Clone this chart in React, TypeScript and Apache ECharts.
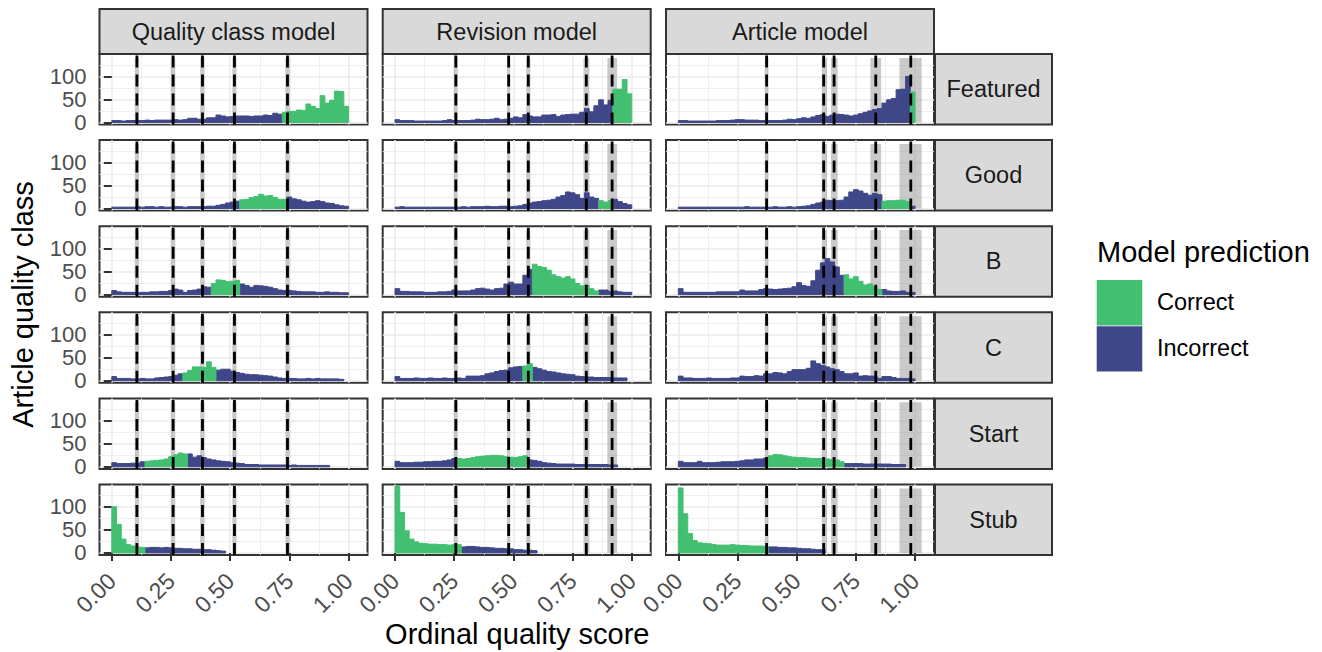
import { useEffect, useRef } from "react";
import * as echarts from "echarts";

const FONT = "'Liberation Sans', Arial, Helvetica, sans-serif";

const MODELS = ["Quality class model", "Revision model", "Article model"];
const CLASSES = ["Featured", "Good", "B", "C", "Start", "Stub"];
const LEGEND_TITLE = "Model prediction";
const X_TITLE = "Ordinal quality score";
const Y_TITLE = "Article quality class";
const COLOR_CORRECT = "#43BF71";
const COLOR_INCORRECT = "#3F4788";

const BIN_WIDTH = 0.02;
const N_BINS = 50;
const X_TICKS = [0, 0.25, 0.5, 0.75, 1];
const X_MINOR_TICKS = [0.125, 0.375, 0.625, 0.875];
const Y_TICKS = [0, 50, 100];
const Y_MINOR_TICKS = [25, 75, 125];
const X_MIN = -0.052;
const X_MAX = 1.08;
const Y_MIN = -4.5;
const Y_MAX = 148.5;
const BAND_TOP = 140;

// thresholds (dashed lines) and their grey uncertainty bands, per model
const QC_CUTS = [0.106, 0.259, 0.383, 0.518, 0.742];
const RV_CUTS = [0.257, 0.48, 0.563, 0.808, 0.917];
const AR_CUTS = [0.373, 0.614, 0.658, 0.834, 0.982];
const QC_BANDS = [[0.097, 0.115], [0.25, 0.268], [0.374, 0.392], [0.509, 0.527], [0.733, 0.751]];
const RV_BANDS = [[0.249, 0.265], [0.473, 0.487], [0.554, 0.572], [0.796, 0.821], [0.897, 0.938]];
const AR_BANDS = [[0.365, 0.381], [0.606, 0.628], [0.645, 0.673], [0.811, 0.857], [0.934, 1.028]];

function bins(start: number, counts: number[]): number[] {
  const out = new Array(N_BINS).fill(0);
  counts.forEach((v, k) => {
    out[start + k] = v;
  });
  return out;
}

// ---- Quality class model ----
const QC_FEATURED_INC = bins(0, [4, 4, 3, 4, 4, 4, 4, 5, 4, 5, 5, 5, 5, 6, 5, 6, 9, 9, 7, 7, 10, 10, 16, 14, 12, 13, 14, 14, 14, 13, 14, 14, 16, 15, 20, 18]);
const QC_FEATURED_COR = bins(36, [22, 24, 24, 27, 26, 40, 35, 30, 58, 42, 48, 68, 67, 35]);
const QC_GOOD_INC = bins(0, [3, 3, 3, 3, 3, 4, 3, 4, 4, 3, 4, 3, 3, 4, 4, 3, 4, 4, 4, 4, 5, 5, 7, 9, 12, 14, 16, 0, 0, 0, 0, 0, 0, 0, 0, 0, 0, 25, 21, 19, 16, 14, 15, 17, 15, 12, 11, 8, 6, 5]);
const QC_GOOD_COR = bins(27, [19, 20, 24, 26, 31, 27, 28, 24, 20, 20]);
const QC_B_INC = bins(0, [9, 6, 5, 5, 5, 4, 5, 5, 6, 6, 7, 7, 9, 12, 10, 5, 9, 10, 12, 17, 16, 0, 0, 0, 0, 0, 0, 23, 20, 16, 20, 19, 18, 16, 13, 10, 9, 9, 8, 7, 6, 6, 6, 5, 5, 6, 5, 5, 4, 4]);
const QC_B_COR = bins(21, [24, 32, 31, 28, 29, 31]);
const QC_C_INC = bins(0, [9, 5, 5, 5, 4, 4, 5, 4, 4, 6, 7, 8, 9, 12, 15, 0, 0, 0, 0, 0, 0, 0, 23, 25, 25, 21, 18, 16, 14, 13, 13, 12, 11, 10, 8, 6, 5, 5, 5, 4, 4, 5, 4, 5, 4, 4, 4, 4, 3]);
const QC_C_COR = bins(15, [17, 22, 30, 30, 29, 41, 29]);
const QC_START_INC = bins(0, [9, 7, 7, 7, 8, 8, 11, 0, 0, 0, 0, 0, 0, 0, 0, 0, 28, 21, 24, 20, 17, 15, 13, 12, 11, 9, 8, 7, 5, 5, 5, 4, 4, 4, 4, 4, 4, 3, 4, 3, 3, 3, 3, 3, 3, 3]);
const QC_START_COR = bins(7, [12, 13, 14, 15, 17, 22, 26, 30, 28]);
const QC_STUB_INC = bins(7, [11, 12, 12, 11, 12, 11, 10, 10, 9, 9, 8, 8, 7, 7, 6, 5, 4]);
const QC_STUB_COR = bins(0, [100, 62, 30, 18, 15, 13, 12]);

// ---- Revision model ----
const RV_FEATURED_INC = bins(0, [6, 4, 4, 4, 3, 3, 3, 3, 3, 3, 4, 6, 4, 4, 4, 4, 5, 7, 6, 6, 7, 9, 6, 7, 9, 12, 10, 17, 14, 12, 12, 16, 16, 17, 13, 16, 17, 18, 18, 22, 30, 23, 36, 49, 38, 48]);
const RV_FEATURED_COR = bins(46, [72, 72, 93, 62]);
const RV_GOOD_INC = bins(0, [3, 4, 3, 3, 3, 3, 3, 3, 3, 3, 3, 3, 3, 3, 4, 3, 4, 4, 4, 5, 4, 4, 5, 5, 4, 5, 6, 9, 12, 14, 15, 17, 18, 20, 25, 28, 36, 34, 30, 22, 34, 25, 22, 0, 0, 0, 20, 15, 11, 8]);
const RV_GOOD_COR = bins(43, [17, 14, 17]);
const RV_B_INC = bins(0, [13, 7, 7, 6, 6, 6, 5, 5, 5, 6, 6, 7, 10, 8, 8, 8, 10, 13, 14, 12, 10, 13, 14, 23, 27, 23, 23, 42, 55, 0, 0, 0, 0, 0, 0, 0, 0, 0, 0, 0, 0, 0, 0, 10, 10, 7, 8, 6, 5, 5]);
const RV_B_COR = bins(29, [66, 61, 59, 53, 43, 39, 36, 39, 34, 24, 19, 20, 13, 8]);
const RV_C_INC = bins(0, [9, 5, 5, 5, 6, 5, 5, 6, 5, 5, 6, 5, 5, 6, 5, 10, 10, 10, 11, 15, 17, 20, 22, 23, 28, 30, 31, 0, 0, 29, 26, 23, 20, 19, 17, 15, 14, 13, 10, 9, 8, 8, 7, 7, 7, 7, 6, 6, 6]);
const RV_C_COR = bins(27, [32, 37]);
const RV_START_INC = bins(0, [12, 9, 9, 9, 10, 10, 11, 11, 12, 12, 13, 15, 18, 0, 0, 0, 0, 0, 0, 0, 0, 0, 0, 0, 0, 0, 0, 0, 15, 14, 12, 9, 8, 7, 6, 6, 6, 6, 5, 5, 5, 5, 5, 5, 5, 4, 4]);
const RV_START_COR = bins(13, [18, 17, 18, 20, 22, 23, 24, 25, 25, 24, 22, 21, 20, 22, 24]);
const RV_STUB_INC = bins(14, [13, 14, 14, 13, 12, 12, 11, 10, 10, 9, 9, 7, 7, 6, 6, 5]);
const RV_STUB_COR = bins(0, [145, 88, 48, 30, 24, 21, 20, 19, 19, 18, 18, 17, 18, 18]);

// ---- Article model ----
const AR_FEATURED_INC = bins(0, [4, 4, 3, 3, 3, 3, 3, 3, 4, 4, 4, 5, 6, 6, 5, 5, 5, 4, 4, 4, 4, 4, 5, 7, 6, 8, 10, 9, 12, 15, 17, 13, 16, 18, 17, 16, 14, 16, 19, 22, 25, 28, 30, 42, 49, 52, 71, 72, 100]);
const AR_FEATURED_COR = bins(49, [66]);
const AR_GOOD_INC = bins(0, [3, 3, 3, 3, 3, 3, 3, 3, 3, 3, 3, 3, 3, 3, 4, 3, 3, 3, 3, 3, 4, 3, 3, 4, 3, 4, 5, 6, 9, 12, 14, 18, 17, 17, 18, 25, 36, 41, 38, 33, 29, 33, 30, 0, 0, 0, 0, 0, 0, 5]);
const AR_GOOD_COR = bins(43, [16, 17, 17, 18, 18, 15]);
const AR_B_INC = bins(0, [13, 5, 5, 5, 5, 5, 5, 5, 6, 6, 6, 6, 6, 10, 8, 8, 8, 11, 13, 12, 11, 12, 13, 14, 17, 26, 20, 18, 30, 53, 69, 78, 71, 60, 42, 0, 0, 0, 0, 0, 0, 0, 0, 11, 8, 7, 7, 8, 5, 5]);
const AR_B_COR = bins(35, [43, 34, 39, 29, 21, 23, 18, 11]);
const AR_C_INC = bins(0, [10, 6, 6, 5, 5, 5, 6, 5, 5, 5, 5, 6, 6, 10, 9, 9, 11, 10, 15, 15, 18, 17, 15, 20, 24, 24, 24, 27, 43, 37, 33, 30, 26, 24, 20, 15, 15, 17, 10, 11, 10, 10, 5, 9, 9, 7, 5, 5, 5, 4]);
const AR_C_COR = bins(0, []);
const AR_START_INC = bins(0, [12, 9, 9, 9, 12, 9, 9, 9, 10, 11, 11, 11, 12, 13, 15, 15, 17, 17, 19, 0, 0, 0, 0, 0, 0, 0, 0, 0, 0, 0, 0, 0, 0, 0, 0, 7, 7, 7, 7, 6, 6, 6, 6, 6, 6, 5, 5, 5]);
const AR_START_COR = bins(19, [24, 27, 26, 24, 22, 21, 20, 20, 19, 18, 18, 18, 17, 16, 15, 11]);
const AR_STUB_INC = bins(19, [13, 13, 12, 12, 11, 11, 10, 9, 9, 8, 7, 7]);
const AR_STUB_COR = bins(0, [141, 85, 42, 27, 22, 21, 20, 18, 17, 17, 17, 18, 17, 16, 16, 15, 15, 15, 14]);

const CUTS = [QC_CUTS, RV_CUTS, AR_CUTS];
const BANDS = [QC_BANDS, RV_BANDS, AR_BANDS];
// [model][class] -> [incorrect, correct]
const COUNTS = [
  [
    [QC_FEATURED_INC, QC_FEATURED_COR],
    [QC_GOOD_INC, QC_GOOD_COR],
    [QC_B_INC, QC_B_COR],
    [QC_C_INC, QC_C_COR],
    [QC_START_INC, QC_START_COR],
    [QC_STUB_INC, QC_STUB_COR],
  ],
  [
    [RV_FEATURED_INC, RV_FEATURED_COR],
    [RV_GOOD_INC, RV_GOOD_COR],
    [RV_B_INC, RV_B_COR],
    [RV_C_INC, RV_C_COR],
    [RV_START_INC, RV_START_COR],
    [RV_STUB_INC, RV_STUB_COR],
  ],
  [
    [AR_FEATURED_INC, AR_FEATURED_COR],
    [AR_GOOD_INC, AR_GOOD_COR],
    [AR_B_INC, AR_B_COR],
    [AR_C_INC, AR_C_COR],
    [AR_START_INC, AR_START_COR],
    [AR_STUB_INC, AR_STUB_COR],
  ],
];

// ---- layout ----
const COL_LEFT = [99.5, 382.7, 666];
const PANEL_W = 268;
const ROW_TOP0 = 54;
const ROW_STEP = 86.1;
const PANEL_H = 70.5;
const STRIP_TOP = 9;
const STRIP_RIGHT_X = 935;
const STRIP_RIGHT_W = 117;

function rectItem(color: string) {
  return (params: any, api: any) => {
    const a = api.coord([api.value(0), api.value(3)]);
    const b = api.coord([api.value(1), api.value(2)]);
    return {
      type: "rect",
      shape: { x: a[0], y: a[1], width: b[0] - a[0], height: b[1] - a[1] },
      style: { fill: color, stroke: color, lineWidth: 1 },
    };
  };
}

function buildOption() {
  const grid: any[] = [];
  const xAxis: any[] = [];
  const yAxis: any[] = [];
  const series: any[] = [];
  const graphic: any[] = [];
  const gridLine = { color: "#EBEBEB", width: 1.6 };
  const minorLine = { color: "#EBEBEB", width: 0.8 };
  const tickLine = { color: "#333333", width: 2 };

  for (let r = 0; r < CLASSES.length; r++) {
    for (let c = 0; c < MODELS.length; c++) {
      const gi = r * MODELS.length + c;
      const top = ROW_TOP0 + r * ROW_STEP;
      grid.push({
        left: COL_LEFT[c],
        top,
        width: PANEL_W,
        height: PANEL_H,
        show: true,
        backgroundColor: "#ffffff",
        borderColor: "#333333",
        borderWidth: 2,
        containLabel: false,
        outerBoundsMode: "none",
      });
      const bottomRow = r === CLASSES.length - 1;
      const firstCol = c === 0;
      xAxis.push({
        type: "value",
        gridIndex: gi,
        min: X_MIN,
        max: X_MAX,
        position: "bottom",
        axisLine: { show: false },
        axisTick: { show: bottomRow, customValues: X_TICKS, length: 8, lineStyle: tickLine },
        axisLabel: {
          show: bottomRow,
          customValues: X_TICKS,
          rotate: 45,
          margin: 22,
          fontSize: 23,
          fontFamily: FONT,
          color: "#4D4D4D",
          formatter: (v: number) => v.toFixed(2),
        },
        splitLine: { show: true, lineStyle: gridLine },
      });
      xAxis.push({
        type: "value",
        gridIndex: gi,
        min: X_MIN,
        max: X_MAX,
        position: "top",
        axisLine: { show: false },
        axisTick: { show: false, customValues: X_MINOR_TICKS },
        axisLabel: { show: false },
        splitLine: { show: true, lineStyle: minorLine },
      });
      yAxis.push({
        type: "value",
        gridIndex: gi,
        min: Y_MIN,
        max: Y_MAX,
        position: "left",
        axisLine: { show: false },
        axisTick: { show: firstCol, customValues: Y_TICKS, length: 8, lineStyle: tickLine },
        axisLabel: {
          show: firstCol,
          customValues: Y_TICKS,
          margin: 13,
          fontSize: 22,
          lineHeight: 22,
          fontFamily: FONT,
          color: "#4D4D4D",
        },
        splitLine: { show: true, lineStyle: gridLine },
      });
      yAxis.push({
        type: "value",
        gridIndex: gi,
        min: Y_MIN,
        max: Y_MAX,
        position: "right",
        axisLine: { show: false },
        axisTick: { show: false, customValues: Y_MINOR_TICKS },
        axisLabel: { show: false },
        splitLine: { show: true, lineStyle: minorLine },
      });
      const xi = gi * 2;
      const yi = gi * 2;

      // grey bands
      series.push({
        type: "custom",
        xAxisIndex: xi,
        yAxisIndex: yi,
        z: 1,
        silent: true,
        clip: true,
        data: BANDS[c].map(([lo, hi]) => [lo, hi, 0, BAND_TOP]),
        renderItem: (params: any, api: any) => {
          const a = api.coord([api.value(0), api.value(3)]);
          const b = api.coord([api.value(1), api.value(2)]);
          return {
            type: "rect",
            shape: { x: a[0], y: a[1], width: b[0] - a[0], height: b[1] - a[1] },
            style: { fill: "rgba(150,150,150,0.5)" },
          };
        },
      });

      // histogram bars, Correct stacked on Incorrect
      const [inc, cor] = COUNTS[c][r];
      const incData: number[][] = [];
      const corData: number[][] = [];
      for (let i = 0; i < N_BINS; i++) {
        const x0 = i * BIN_WIDTH;
        const x1 = (i + 1) * BIN_WIDTH;
        if (inc[i] > 0) incData.push([x0, x1, 0, inc[i]]);
        if (cor[i] > 0) corData.push([x0, x1, inc[i], inc[i] + cor[i]]);
      }
      series.push({
        type: "custom",
        name: "Incorrect",
        xAxisIndex: xi,
        yAxisIndex: yi,
        z: 2,
        silent: true,
        clip: true,
        itemStyle: { color: COLOR_INCORRECT },
        data: incData,
        renderItem: rectItem(COLOR_INCORRECT),
      });
      series.push({
        type: "custom",
        name: "Correct",
        xAxisIndex: xi,
        yAxisIndex: yi,
        z: 2,
        silent: true,
        clip: true,
        itemStyle: { color: COLOR_CORRECT },
        data: corData,
        renderItem: rectItem(COLOR_CORRECT),
      });

      // dashed threshold lines
      series.push({
        type: "custom",
        xAxisIndex: xi,
        yAxisIndex: yi,
        z: 3,
        silent: true,
        data: CUTS[c].map((x) => [x]),
        renderItem: (params: any, api: any) => {
          const b = api.coord([api.value(0), Y_MIN]);
          const t = api.coord([api.value(0), Y_MAX]);
          return {
            type: "line",
            shape: { x1: b[0], y1: b[1], x2: t[0], y2: t[1] },
            style: { stroke: "#000000", lineWidth: 2.8, lineDash: [12, 7] },
          };
        },
      });
    }
  }

  // column strips
  MODELS.forEach((m, c) => {
    graphic.push({
      type: "rect",
      z: 10,
      shape: { x: COL_LEFT[c], y: STRIP_TOP, width: PANEL_W, height: ROW_TOP0 - STRIP_TOP },
      style: { fill: "#D9D9D9", stroke: "#333333", lineWidth: 2 },
    });
    graphic.push({
      type: "text",
      z: 11,
      x: COL_LEFT[c] + PANEL_W / 2,
      y: (STRIP_TOP + ROW_TOP0) / 2,
      style: { text: m, fontSize: 23.5, fontFamily: FONT, fill: "#1A1A1A", align: "center", verticalAlign: "middle" },
    });
  });
  // row strips
  CLASSES.forEach((k, r) => {
    const top = ROW_TOP0 + r * ROW_STEP;
    graphic.push({
      type: "rect",
      z: 10,
      shape: { x: STRIP_RIGHT_X, y: top, width: STRIP_RIGHT_W, height: PANEL_H },
      style: { fill: "#D9D9D9", stroke: "#333333", lineWidth: 2 },
    });
    graphic.push({
      type: "text",
      z: 11,
      x: STRIP_RIGHT_X + STRIP_RIGHT_W / 2,
      y: top + PANEL_H / 2,
      style: { text: k, fontSize: 23.5, fontFamily: FONT, fill: "#1A1A1A", align: "center", verticalAlign: "middle" },
    });
  });

  // axis titles
  graphic.push({
    type: "text",
    x: (COL_LEFT[0] + STRIP_RIGHT_X) / 2,
    y: 634,
    style: { text: X_TITLE, fontSize: 29, fontFamily: FONT, fill: "#000000", align: "center", verticalAlign: "middle" },
  });
  graphic.push({
    type: "text",
    x: 23,
    y: ROW_TOP0 + (5 * ROW_STEP + PANEL_H) / 2,
    rotation: Math.PI / 2,
    style: { text: Y_TITLE, fontSize: 29, fontFamily: FONT, fill: "#000000", align: "center", verticalAlign: "middle" },
  });

  // legend
  graphic.push({
    type: "text",
    x: 1097,
    y: 252,
    style: { text: LEGEND_TITLE, fontSize: 29, fontFamily: FONT, fill: "#000000", align: "left", verticalAlign: "middle" },
  });
  graphic.push({ type: "rect", shape: { x: 1096.7, y: 280, width: 45.6, height: 45.4 }, style: { fill: COLOR_CORRECT } });
  graphic.push({ type: "rect", shape: { x: 1096.7, y: 326.2, width: 45.6, height: 45.2 }, style: { fill: COLOR_INCORRECT } });
  graphic.push({
    type: "text",
    x: 1157,
    y: 302,
    style: { text: "Correct", fontSize: 23.5, fontFamily: FONT, fill: "#000000", align: "left", verticalAlign: "middle" },
  });
  graphic.push({
    type: "text",
    x: 1157,
    y: 348,
    style: { text: "Incorrect", fontSize: 23.5, fontFamily: FONT, fill: "#000000", align: "left", verticalAlign: "middle" },
  });

  return {
    animation: false,
    backgroundColor: "#ffffff",
    textStyle: { fontFamily: FONT },
    grid,
    xAxis,
    yAxis,
    series,
    graphic,
  };
}

export default function App() {
  const ref = useRef<HTMLDivElement>(null);
  useEffect(() => {
    const chart = echarts.init(ref.current as HTMLDivElement, null, { renderer: "svg" });
    chart.setOption(buildOption() as any);
    return () => chart.dispose();
  }, []);
  return <div ref={ref} style={{ position: "absolute", left: 0, top: 0, width: 1322, height: 652 }} />;
}
